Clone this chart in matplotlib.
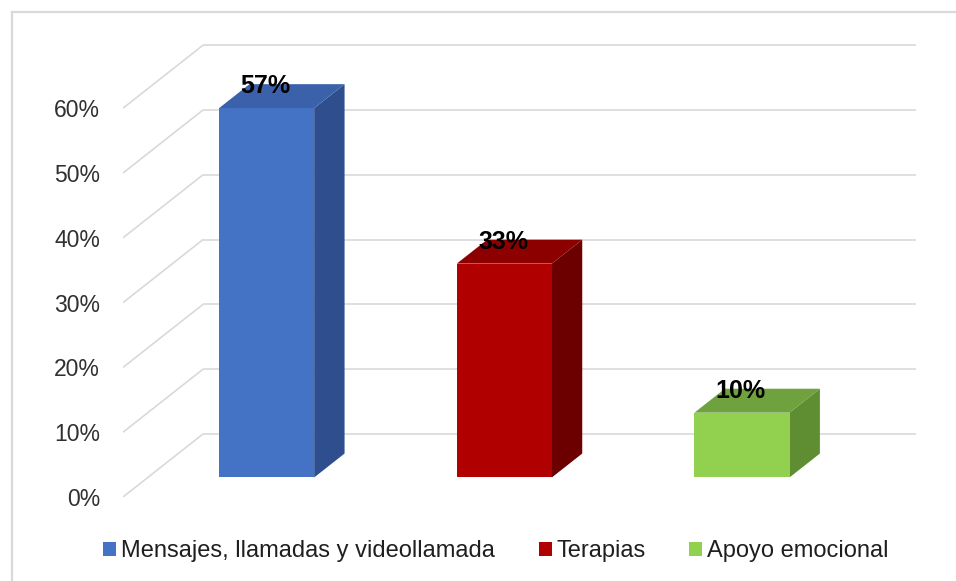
import matplotlib
matplotlib.use("Agg")
import matplotlib.pyplot as plt
from matplotlib.patches import Polygon, Rectangle
from matplotlib.lines import Line2D

# ---- data ----
categories = ["Mensajes, llamadas y videollamada", "Terapias", "Apoyo emocional"]
values = [57, 33, 10]
value_labels = ["57%", "33%", "10%"]
yticks = [0, 10, 20, 30, 40, 50, 60]
ytick_labels = ["0%", "10%", "20%", "30%", "40%", "50%", "60%"]

# ---- style ----
front_colors = ["#4472C4", "#B00000", "#92D050"]
top_colors = ["#3A61AA", "#8C0000", "#6FA23E"]
side_colors = ["#2E4E8E", "#6C0000", "#5E8D32"]
grid_color = "#D9D9D9"
FONT = "Liberation Sans"

W, H = 956, 581
DPI = 100
fig = plt.figure(figsize=(W / DPI, H / DPI), dpi=DPI)
fig.patch.set_facecolor("white")

# axes: front plane of the floor/wall grid
px_left, px_right = 123, 916
px_bottom, px_top = 497, 30
ax = fig.add_axes([px_left / W, (H - px_bottom) / H,
                   (px_right - px_left) / W, (px_bottom - px_top) / H])
bin_px = (836 - 123) / 3.0
px_per_unit = 6.48
ax.set_xlim(-0.5, -0.5 + (px_right - px_left) / bin_px)
ax.set_ylim(0, (px_bottom - px_top) / px_per_unit)
for s in ax.spines.values():
    s.set_visible(False)
ax.set_xticks([])
ax.set_yticks(yticks)
ax.set_yticklabels(ytick_labels, fontsize=16.5, color="#303030", family=FONT)
ax.tick_params(axis="y", length=0, pad=16.5)
ax.patch.set_alpha(0)

# perspective depth (in data units)
DX = 80 / bin_px
DY = 63 / px_per_unit
d0, d1 = 0.31, 0.69
x_back_end = 2.5

# gridlines: back wall + left diagonal
for v in yticks:
    ax.plot([-0.5, -0.5 + DX], [v, v + DY], color=grid_color, lw=1.2, zorder=1,
            solid_capstyle="butt")
    ax.plot([-0.5 + DX, x_back_end + DX], [v + DY, v + DY], color=grid_color,
            lw=1.2, zorder=1, solid_capstyle="butt")

# 3D bars
bw = 0.4
ddx = (d1 - d0) * DX
ddy = (d1 - d0) * DY
for i, v in enumerate(values):
    x0 = i - bw / 2 + d0 * DX
    x1 = i + bw / 2 + d0 * DX
    y0 = d0 * DY
    y1 = v + d0 * DY
    ax.add_patch(Polygon([(x1, y0), (x1 + ddx, y0 + ddy), (x1 + ddx, y1 + ddy), (x1, y1)],
                         closed=True, facecolor=side_colors[i], edgecolor="none", zorder=3))
    ax.add_patch(Polygon([(x0, y1), (x1, y1), (x1 + ddx, y1 + ddy), (x0 + ddx, y1 + ddy)],
                         closed=True, facecolor=top_colors[i], edgecolor="none", zorder=3))
    ax.add_patch(Rectangle((x0, y0), x1 - x0, y1 - y0, facecolor=front_colors[i],
                           edgecolor="none", zorder=4))
    ax.text(i + d0 * DX - 0.005, v + d1 * DY - 0.3, value_labels[i], ha="center", va="center",
            fontsize=18, fontweight="bold", color="black", family=FONT, zorder=6)

# outer border (cropped chart frame)
fig.add_artist(Line2D([12 / W, 1.0], [(H - 12) / H, (H - 12) / H], color=grid_color,
                      lw=1.6, transform=fig.transFigure))
fig.add_artist(Line2D([12 / W, 12 / W], [0, (H - 12) / H], color=grid_color,
                      lw=1.6, transform=fig.transFigure))

# legend
handles = [Rectangle((0, 0), 1, 1, facecolor=c, edgecolor="none") for c in front_colors]
leg = fig.legend(handles, categories, loc="center", bbox_to_anchor=(496 / W, 30 / H),
                 ncol=3, frameon=False, prop={"family": FONT, "size": 17},
                 handlelength=0.55, handleheight=0.55, handletextpad=0.2,
                 columnspacing=1.85, borderpad=0)
for t in leg.get_texts():
    t.set_color("#1F1F1F")

fig.savefig("out.png", dpi=DPI, facecolor="white")
